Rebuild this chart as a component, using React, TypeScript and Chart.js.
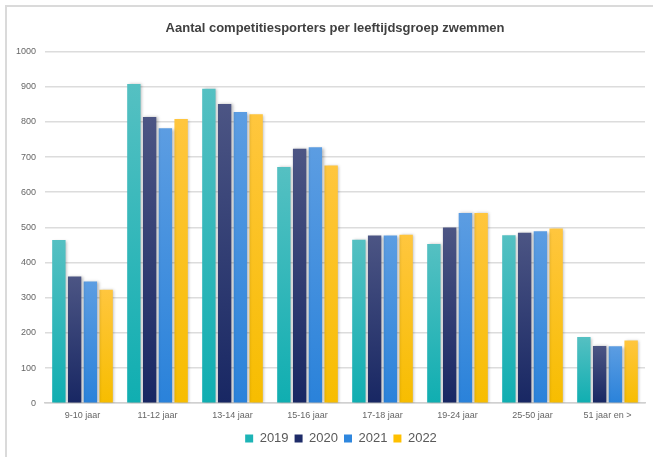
import React, { useEffect, useRef } from "react";
import { Chart, registerables } from "chart.js";

Chart.register(...registerables);

const categories = ["9-10 jaar", "11-12 jaar", "13-14 jaar", "15-16 jaar", "17-18 jaar", "19-24 jaar", "25-50 jaar", "51 jaar en >"];
const seriesNames = ["2019", "2020", "2021", "2022"];
const values2019 = [464, 908, 894, 672, 465, 453, 478, 188];
const values2020 = [360, 814, 851, 724, 477, 500, 485, 163];
const values2021 = [346, 782, 828, 728, 477, 541, 489, 162];
const values2022 = [323, 808, 822, 676, 479, 541, 497, 178];
const yTicks = [0, 100, 200, 300, 400, 500, 600, 700, 800, 900, 1000];

const baseColors = ["#1DB4B6", "#1E2C69", "#2F87DE", "#FFC000"];
const topColors = ["#55C0C2", "#4C5584", "#5C9DE2", "#FFC63E"];
const bottomColors = ["#10AEB1", "#182763", "#2A82DA", "#F7BD00"];

const FONT = "'Liberation Sans Narrow', 'Liberation Sans', Arial, sans-serif";

function gradientFor(i: number) {
  return (ctx: any) => {
    if (ctx.type !== "data") return baseColors[i];
    const chart = ctx.chart;
    const ys = chart.scales && chart.scales.y;
    if (!chart.chartArea || !ys) return baseColors[i];
    const v = ctx.raw as number;
    const top = ys.getPixelForValue(v);
    const bottom = ys.getPixelForValue(0);
    if (!isFinite(top) || !isFinite(bottom) || top === bottom) return baseColors[i];
    const g = chart.ctx.createLinearGradient(0, top, 0, bottom);
    g.addColorStop(0, topColors[i]);
    g.addColorStop(1, bottomColors[i]);
    return g;
  };
}

const shadowPlugin = {
  id: "barShadow",
  beforeDatasetsDraw(chart: any) {
    const c = chart.ctx;
    c.save();
    c.shadowColor = "rgba(0,0,0,0.28)";
    c.shadowBlur = 3;
    c.shadowOffsetX = 1.5;
    c.shadowOffsetY = 0.5;
  },
  afterDatasetsDraw(chart: any) {
    chart.ctx.restore();
  },
};

// nudge the title and legend blocks so they sit like in the reference
const centerShiftPlugin = {
  id: "centerShift",
  afterLayout(chart: any) {
    const t = chart.titleBlock;
    if (t) {
      t.left += 20;
    }
    const l = chart.legend;
    if (l) {
      l.left += 32;
      l.top -= 2;
      l.bottom -= 2;
    }
  },
};

export default function App() {
  const ref = useRef<HTMLCanvasElement | null>(null);
  useEffect(() => {
    if (!ref.current) return;
    const all = [values2019, values2020, values2021, values2022];
    const chart = new Chart(ref.current, {
      type: "bar",
      data: {
        labels: categories,
        datasets: all.map((vals, i) => ({
          label: seriesNames[i],
          data: vals,
          backgroundColor: gradientFor(i),
          borderWidth: 0,
          categoryPercentage: 0.84,
          barPercentage: 0.85,
        })),
      },
      plugins: [shadowPlugin, centerShiftPlugin],
      options: {
        animation: false,
        responsive: false,
        layout: { padding: { left: 5, right: 8, top: 0, bottom: 0 } },
        plugins: {
          title: {
            display: true,
            text: "Aantal competitiesporters per leeftijdsgroep zwemmen",
            color: "#404040",
            font: { family: FONT, size: 13, weight: "bold" },
            padding: { top: 21, bottom: 15 },
          },
          legend: {
            position: "bottom",
            labels: {
              color: "#595959",
              font: { family: FONT, size: 13 },
              boxWidth: 8,
              boxHeight: 8,
              padding: 6,
              generateLabels: () =>
                seriesNames.map((n, i) => ({
                  text: n,
                  fillStyle: baseColors[i],
                  strokeStyle: baseColors[i],
                  lineWidth: 0,
                  datasetIndex: i,
                  hidden: false,
                  fontColor: "#595959",
                })),
            },
          },
          tooltip: { enabled: false },
        },
        scales: {
          x: {
            grid: { display: false, drawTicks: false },
            border: { display: true, color: "#d0d0d0", width: 1.5 },
            ticks: { color: "#666666", font: { family: FONT, size: 9 }, padding: 7, maxRotation: 0, autoSkip: false },
          },
          y: {
            min: 0,
            max: 1000,
            afterBuildTicks: (s: any) => {
              s.ticks = yTicks.map((v) => ({ value: v }));
            },
            afterFit: (s: any) => {
              s.width = 40;
            },
            grid: { color: "#dcdcdc", lineWidth: 1.5, drawTicks: false },
            border: { display: false },
            ticks: {
              color: "#666666",
              font: { family: FONT, size: 9 },
              padding: 9,
              callback: (v: any) => String(v),
            },
          },
        },
      },
    });
    return () => chart.destroy();
  }, []);
  return (
    <div style={{ position: "absolute", left: 0, top: 0, width: 653, height: 457, background: "#fff" }}>
      <div
        style={{
          position: "absolute",
          left: 5,
          top: 5,
          right: 0,
          bottom: 0,
          borderTop: "2px solid #dadada",
          borderLeft: "2px solid #dadada",
        }}
      />
      <canvas ref={ref} width={653} height={457} style={{ position: "absolute", left: 0, top: 0 }} />
    </div>
  );
}
